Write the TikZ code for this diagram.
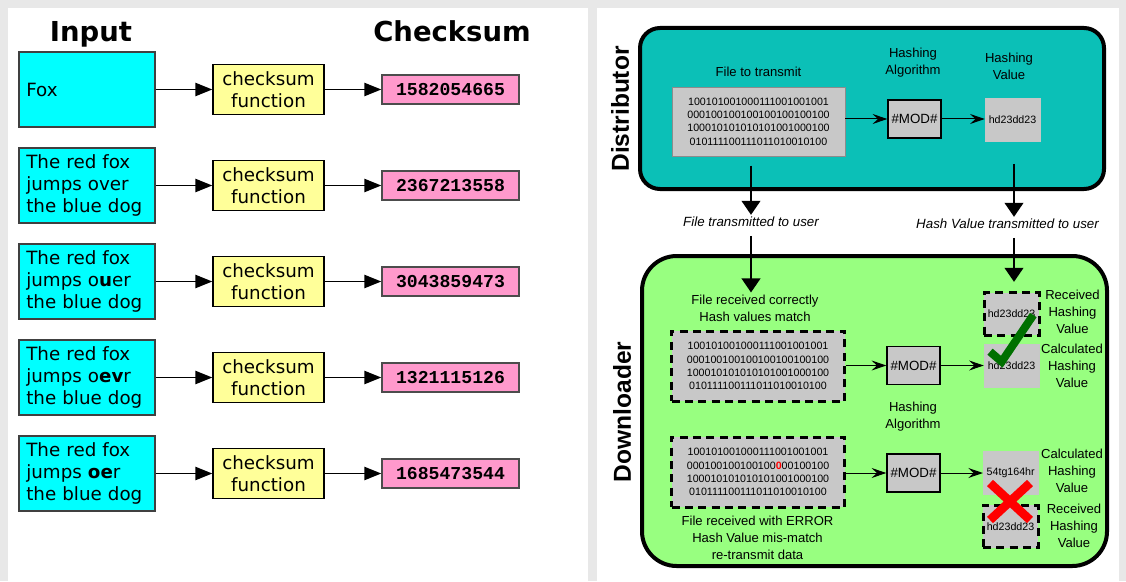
\documentclass[tikz,border=0pt]{standalone}
\usepackage{fontspec}
\setmainfont{DejaVu Sans}
\newfontfamily\libsans{Liberation Sans}
\newfontfamily\libmono{Liberation Mono}
\usetikzlibrary{arrows.meta}

\definecolor{incyan}{RGB}{0,255,255}
\definecolor{distteal}{RGB}{11,192,183}
\definecolor{dlgreen}{RGB}{152,255,128}
\definecolor{filegray}{RGB}{200,200,200}
\definecolor{pinkbox}{RGB}{255,153,204}
\definecolor{yellowbox}{RGB}{255,255,153}
\definecolor{okgreen}{RGB}{0,112,0}

\begin{document}
\begin{tikzpicture}[x=0.75pt,y=-0.75pt,
    inbox/.style={draw=black!75,line width=1.1pt,fill=incyan,align=left,
      minimum width=102pt,minimum height=56.25pt,text width=91pt,inner xsep=5.5pt,
      font=\fontsize{13.7}{16.5}\selectfont},
    funbox/.style={draw,line width=1.1pt,fill=yellowbox,align=center,
      minimum width=83.25pt,minimum height=37.5pt,inner sep=0pt,
      font=\fontsize{13.7}{16.3}\selectfont},
    sumbox/.style={draw=black!70,line width=1.1pt,fill=pinkbox,
      minimum width=102.75pt,minimum height=21.75pt,inner sep=0pt,
      font=\libmono\bfseries\fontsize{13.6}{16}\selectfont},
    head/.style={anchor=base,font=\bfseries\fontsize{20.6}{24}\selectfont},
    flow/.style={line width=1.1pt,-{Triangle[length=12.75pt,width=10pt]}},
    panel/.style={draw,line width=3pt,inner sep=0pt},
    side/.style={rotate=90,font=\libsans\bfseries\fontsize{18.4}{22}\selectfont},
    lbl/.style={align=center,inner sep=1.5pt,font=\libsans\fontsize{9.8}{12.75}\selectfont},
    move/.style={align=center,inner sep=1.5pt,font=\libsans\itshape\fontsize{10}{12}\selectfont},
    bits/.style={fill=filegray,align=center,minimum width=129.75pt,minimum height=52.5pt,
      inner sep=0pt,font=\libsans\fontsize{8}{10}\selectfont},
    dashbox/.style={draw,line width=2.25pt,dash pattern=on 6pt off 4pt},
    modbox/.style={draw,line width=1.1pt,fill=filegray,minimum width=39.75pt,
      minimum height=28.5pt,inner sep=0pt,font=\libsans\fontsize{10}{12}\selectfont},
    hashbox/.style={fill=filegray,minimum width=41.25pt,minimum height=32pt,
      inner sep=0pt,font=\libsans\fontsize{8}{10}\selectfont},
    thinarrow/.style={line width=0.75pt,-{Stealth[length=11pt,width=7.5pt,inset=4pt]}},
    send/.style={line width=1.5pt,-{Triangle[length=10.5pt,width=14pt]}}]

  % background and the two panels
  \useasboundingbox (0,0) rectangle (1126,581);
  \fill[black!9] (0,0) rectangle (1126,581);
  \fill[white] (8,8) rectangle (588,581);
  \fill[white] (597,8) rectangle (1119,581);

  % left: checksums
  \node[head] (inhead) at (91,41.5) {Input};
  \node[head] (sumhead) at (452,41.5) {Checksum};

  \node[inbox] (in1) at (87,89.5) {Fox};
  \node[inbox] (in2) at (87,185.5) {The red fox\\jumps over\\the blue dog};
  \node[inbox] (in3) at (87,281.5) {The red fox\\jumps o\textbf{u}er\\the blue dog};
  \node[inbox] (in4) at (87,377.5) {The red fox\\jumps o\textbf{ev}r\\the blue dog};
  \node[inbox] (in5) at (87,473.5) {The red fox\\jumps \textbf{oe}r\\the blue dog};

  \node[funbox] (fn1) at (268.5,89.5) {checksum\\function};
  \node[funbox] (fn2) at (268.5,185.5) {checksum\\function};
  \node[funbox] (fn3) at (268.5,281.5) {checksum\\function};
  \node[funbox] (fn4) at (268.5,377.5) {checksum\\function};
  \node[funbox] (fn5) at (268.5,473.5) {checksum\\function};

  \node[sumbox] (cs1) at (450.5,89.5) {1582054665};
  \node[sumbox] (cs2) at (450.5,185.5) {2367213558};
  \node[sumbox] (cs3) at (450.5,281.5) {3043859473};
  \node[sumbox] (cs4) at (450.5,377.5) {1321115126};
  \node[sumbox] (cs5) at (450.5,473.5) {1685473544};

  \draw[flow] (in1)--(fn1); \draw[flow] (fn1)--(cs1);
  \draw[flow] (in2)--(fn2); \draw[flow] (fn2)--(cs2);
  \draw[flow] (in3)--(fn3); \draw[flow] (fn3)--(cs3);
  \draw[flow] (in4)--(fn4); \draw[flow] (fn4)--(cs4);
  \draw[flow] (in5)--(fn5); \draw[flow] (fn5)--(cs5);

  % right: distributor
  \node[panel,fill=distteal,rounded corners=15pt,minimum width=348pt,
    minimum height=120.75pt] (dist) at (872,108.5) {};
  \node[side] (distname) at (620,109) {Distributor};
  \node[lbl] (filelbl) at (758.5,71.5) {File to transmit};
  \node[lbl] (algolbl) at (913,63) {Hashing\\Algorithm};
  \node[lbl] (vallbl) at (1009,66.5) {Hashing\\Value};
  \node[bits,draw=black!45,minimum height=51.75pt] (dfile) at (758.5,121.5)
    {100101001000111001001001\\000100100100100100100100\\100010101010101001000100\\010111100111011010010100};
  \node[modbox] (dmod) at (914.5,119) {\#MOD\#};
  \node[hashbox,draw=black!22] (dhash) at (1012.5,119.5) {hd23dd23};
  \draw[thinarrow] (dfile.east|-dmod)--(dmod);
  \draw[thinarrow] (dmod)--(dhash.west|-dmod);

  % transfer
  \node[move] (ftx) at (751,222) {File transmitted to user};
  \node[move] (htx) at (1007.5,224) {Hash Value transmitted to user};
  \coordinate (hx) at (1014,0);

  % right: downloader
  \node[panel,fill=dlgreen,rounded corners=26pt,minimum width=348.75pt,
    minimum height=232.5pt] (down) at (874.5,411) {};
  \node[side] (downname) at (622,412) {Downloader};
  \node[lbl] (oklbl) at (755,308) {File received correctly\\Hash values match};
  \node[bits,dashbox] (rfile1) at (758,366)
    {100101001000111001001001\\000100100100100100100100\\100010101010101001000100\\010111100111011010010100};
  \node[modbox] (rmod1) at (913.5,365.5) {\#MOD\#};
  \node[hashbox,draw=black!22] (rcalc1) at (1011.5,366) {hd23dd23};
  \node[hashbox,dashbox] (rrecv1) at (1011.5,314) {hd23dd23};
  \node[lbl] (recvlbl1) at (1072.5,311.5) {Received\\Hashing\\Value};
  \node[lbl] (calclbl1) at (1072,366) {Calculated\\Hashing\\Value};
  \node[lbl] (algolbl2) at (913,417) {Hashing\\Algorithm};

  \node[bits,dashbox] (rfile2) at (758,472)
    {100101001000111001001001\\000100100100100{\color{red}\bfseries 0}00100100\\100010101010101001000100\\010111100111011010010100};
  \node[modbox] (rmod2) at (913.5,473) {\#MOD\#};
  \node[hashbox,draw=black!22] (rcalc2) at (1010.7,472.5) {54tg164hr};
  \node[hashbox,dashbox] (rrecv2) at (1010.5,526.5) {hd23dd23};
  \node[lbl] (calclbl2) at (1072,471) {Calculated\\Hashing\\Value};
  \node[lbl] (recvlbl2) at (1074,526) {Received\\Hashing\\Value};
  \node[lbl] (errlbl) at (757.5,537.5) {File received with ERROR\\Hash Value mis-match\\re-transmit data};

  \draw[thinarrow] (rfile1.east|-rmod1)--(rmod1);
  \draw[thinarrow] (rmod1)--(rcalc1.west|-rmod1);
  \draw[thinarrow] (rfile2.east|-rmod2)--(rmod2);
  \draw[thinarrow] (rmod2)--(rcalc2.west|-rmod2);

  % vertical transfer arrows
  \draw[send,shorten <=7pt] (dfile.south-|ftx)--(ftx.north);
  \draw[send,shorten <=5pt] (ftx.south)--(oklbl.north-|ftx);
  \draw[send,shorten <=17pt] (dhash.south-|hx)--(htx.north-|hx);
  \draw[send,shorten <=5pt,shorten >=7pt] (htx.south-|hx)--(rrecv1.north-|hx);

  % match and mismatch marks
  \draw[okgreen,line width=6pt] (990,351.7)--(1001.7,361.7)--(1033.3,315);
  \draw[red,line width=6.5pt] (990,483)--(1030,520) (1030,483)--(990,520);
\end{tikzpicture}
\end{document}
